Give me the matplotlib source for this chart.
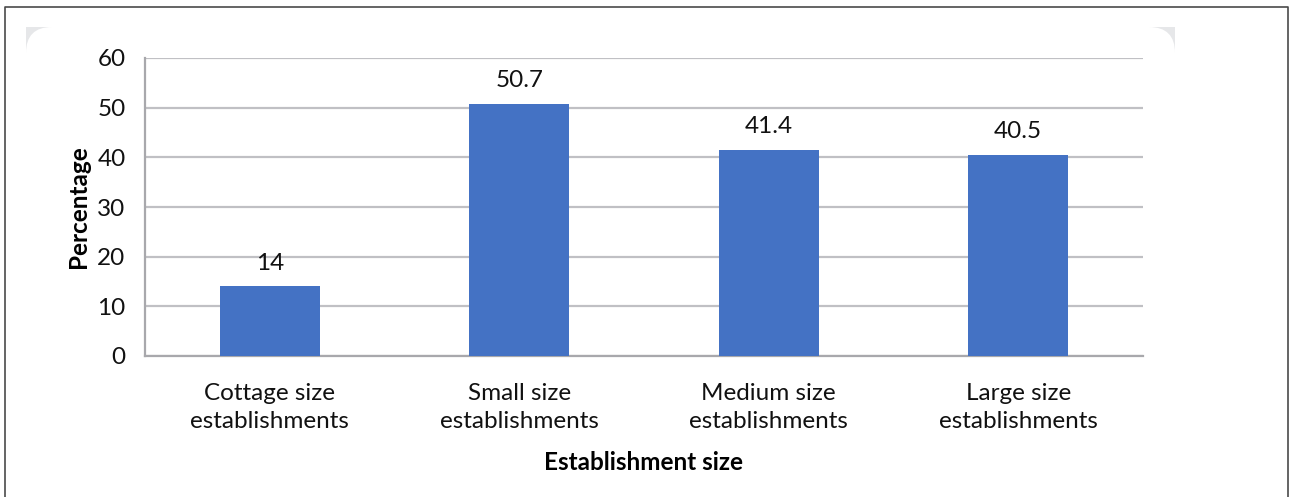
import matplotlib.pyplot as plt
from matplotlib.patches import FancyBboxPatch, Rectangle
from matplotlib.lines import Line2D

categories = ['Cottage size\nestablishments', 'Small size\nestablishments',
              'Medium size\nestablishments', 'Large size\nestablishments']
values = [14, 50.7, 41.4, 40.5]
value_labels = ['14', '50.7', '41.4', '40.5']

plt.rcParams['font.family'] = ['Lato', 'DejaVu Sans']
FS = 17.5

W, H = 1290, 497
fig = plt.figure(figsize=(W / 100, H / 100), dpi=100)

# grey card corners with a white rounded card over them
fig.patches.append(Rectangle((26, 0), 1149, 470, transform=None,
                             facecolor='#e6e7e9', edgecolor='none', zorder=-3))
fig.patches.append(FancyBboxPatch((26, -40), 1149, 510, boxstyle='round,pad=0,rounding_size=26',
                                  transform=None, facecolor='white', edgecolor='none', zorder=-2))
# outer frame (top, left, right)
fig.lines.append(Line2D([5, 5, 1288, 1288], [0, 490, 490, 0], transform=None,
                        color='#4a4a4a', linewidth=1.2, zorder=-1))

ax = fig.add_axes([145 / W, (H - 356) / H, 998 / W, 298 / H])
ax.set_facecolor('none')
x = range(len(categories))
ax.bar(x, values, width=0.4, color='#4472c4', zorder=3)
for xi, v, lab in zip(x, values, value_labels):
    ax.text(xi, v + 3.4, lab, ha='center', va='baseline', fontsize=FS, color='#111111')

ax.set_xlim(-0.5, 3.5)
ax.set_ylim(0, 60)
ax.set_yticks(range(0, 61, 10))
ax.yaxis.grid(True, color='#c0c0c4', linewidth=1.6, zorder=0)
ax.set_xticks(list(x))
ax.set_xticklabels(categories, fontsize=FS, linespacing=1.42, color='#111111')
ax.tick_params(axis='y', labelsize=FS, labelcolor='#111111', length=0, pad=14)
ax.tick_params(axis='x', length=0, pad=19.5)
for s in ['top', 'right']:
    ax.spines[s].set_visible(False)
for s in ['left', 'bottom']:
    ax.spines[s].set_color('#a8a8ac')
    ax.spines[s].set_linewidth(1.6)

ax.set_xlabel('Establishment size', fontsize=FS, fontweight='bold', labelpad=13.5)
ax.set_ylabel('Percentage', fontsize=FS, fontweight='bold', labelpad=5)

fig.savefig('out.png', dpi=100)
